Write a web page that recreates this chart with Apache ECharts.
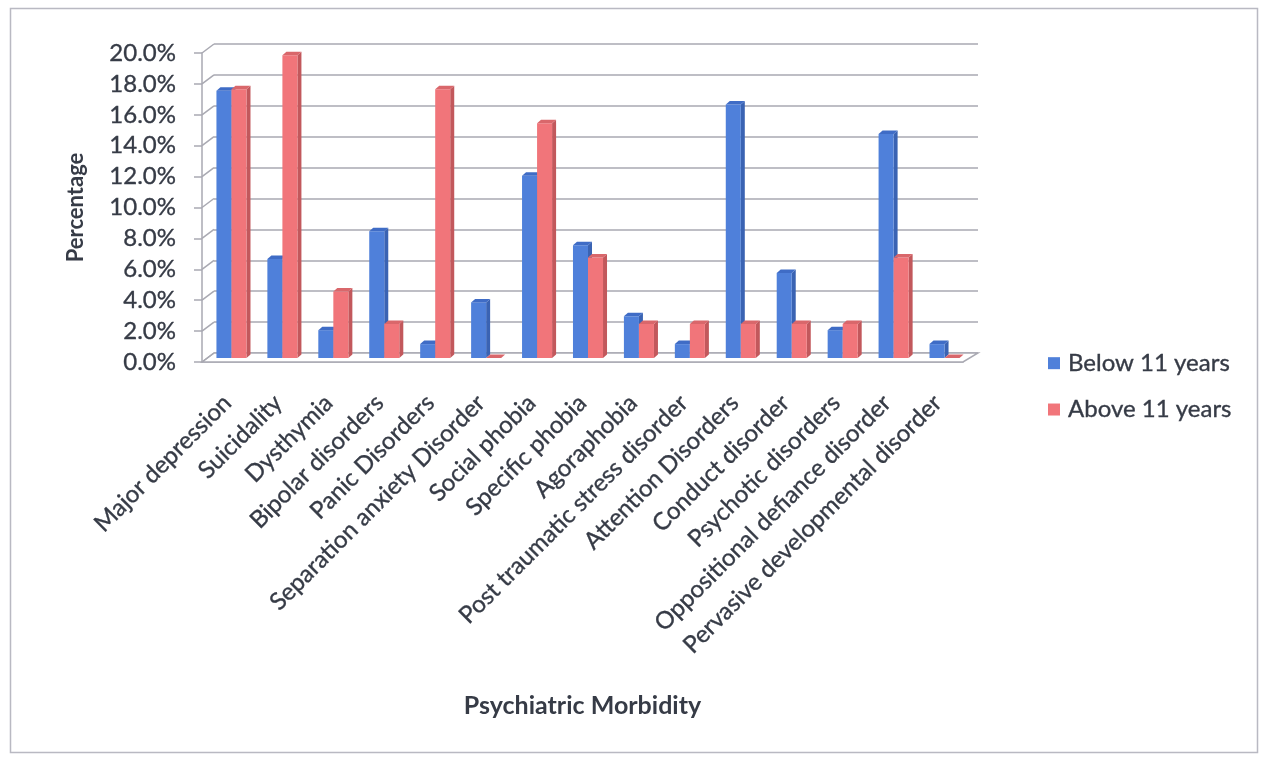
<!DOCTYPE html>
<html>
<head>
<meta charset="utf-8">
<title>Psychiatric Morbidity by Age Group</title>
<script src="https://cdn.jsdelivr.net/npm/echarts@6/dist/echarts.min.js"></script>
<style>
  html, body { margin: 0; padding: 0; background: #ffffff; }
  #chart { width: 1264px; height: 757px; }
</style>
</head>
<body>
<div id="chart"></div>
<script>
// Diagnoses on the category axis
const categories = [
  'Major depression', 'Suicidality', 'Dysthymia', 'Bipolar disorders',
  'Panic Disorders', 'Separation anxiety Disorder', 'Social phobia',
  'Specific phobia', 'Agoraphobia', 'Post traumatic stress disorder',
  'Attention Disorders', 'Conduct disorder', 'Psychotic disorders',
  'Oppositional defiance disorder', 'Pervasive developmental disorder'
];

// Percentage of children in each age group with the diagnosis
const below11 = [17.3, 6.4, 1.8, 8.2, 0.9, 3.6, 11.8, 7.3, 2.7, 0.9, 16.4, 5.5, 1.8, 14.5, 0.9];
const above11 = [17.4, 19.6, 4.3, 2.2, 17.4, 0.0, 15.2, 6.5, 2.2, 2.2, 2.2, 2.2, 2.2, 6.5, 0.0];

const seriesNames = ['Below 11 years', 'Above 11 years'];

// Value axis range and step (percent)
const yMin = 0, yMax = 20, yStep = 2;

const FONT = 'Lato, "Open Sans", sans-serif';
const TEXT = '#363b46';
const GRID_LINE = '#a9a9b2';

// Slight outline thickens the regular text weight
const heavy = { textBorderColor: TEXT, textBorderWidth: 0.35 };

// Colours for front, side and top faces of the columns
const palette = [
  { front: '#4f80da', side: '#3a63b3', top: '#3f6cc6' },
  { front: '#f1757a', side: '#c2585c', top: '#d9676b' }
];

// Offset of the back wall relative to the front plane
const DEPTH_X = 12, DEPTH_Y = 9;
// Extrusion of each column
const COL_DX = 4, COL_DY = 3.5;

function columnRenderer(groupIndex) {
  return function (params, api) {
    const cat = api.value(0);
    const val = api.value(1);
    const base = api.coord([cat, 0]);
    const top = api.coord([cat, val]);
    const band = api.size([1, 0])[0];
    const w = band * 0.295;
    const x = groupIndex === 0 ? base[0] - w : base[0];
    const yTop = top[1];
    const yBot = base[1];
    const c = palette[groupIndex];
    return {
      type: 'group',
      children: [
        {
          type: 'polygon',
          shape: { points: [[x + w, yTop], [x + w + COL_DX, yTop - COL_DY], [x + w + COL_DX, yBot - COL_DY], [x + w, yBot]] },
          style: { fill: c.side }
        },
        {
          type: 'rect',
          shape: { x: x, y: yTop, width: w, height: yBot - yTop },
          style: { fill: c.front }
        },
        {
          type: 'polygon',
          shape: { points: [[x, yTop], [x + COL_DX, yTop - COL_DY], [x + w + COL_DX, yTop - COL_DY], [x + w, yTop]] },
          style: { fill: c.top }
        }
      ]
    };
  };
}

// Floor outline and the slanted links between front ticks and the back wall
function frameRenderer(params, api) {
  const cs = params.coordSys;
  const children = [];
  const x0 = cs.x, x1 = cs.x + cs.width;
  const y0 = api.coord([0, yMin])[1];
  children.push({
    type: 'polygon',
    shape: { points: [[x0, y0], [x0 + DEPTH_X, y0 - DEPTH_Y], [x1 + DEPTH_X + 3, y0 - DEPTH_Y], [x1, y0]] },
    style: { fill: '#ffffff', stroke: GRID_LINE, lineWidth: 1.5 }
  });
  for (let v = yMin; v <= yMax; v += yStep) {
    const y = api.coord([0, v])[1];
    children.push({
      type: 'line',
      shape: { x1: x0, y1: y, x2: x0 + DEPTH_X, y2: y - DEPTH_Y },
      style: { stroke: GRID_LINE, lineWidth: 1.5 }
    });
  }
  return { type: 'group', children: children };
}

const chart = echarts.init(document.getElementById('chart'), null, { renderer: 'canvas' });

const frontGrid = { left: 202, top: 53, width: 761, height: 309 };
const backGrid = { left: 214, top: 44, width: 764, height: 309 };
const barGrid = { left: 206, top: 49, width: 764, height: 309 };

const option = {
  backgroundColor: '#ffffff',
  animation: false,
  textStyle: { fontFamily: FONT },
  graphic: [
    {
      type: 'rect',
      left: 8, top: 6,
      shape: { width: 1247, height: 744 },
      style: { fill: 'none', stroke: '#b9b9c2', lineWidth: 1.5 },
      silent: true
    }
  ],
  legend: {
    orient: 'vertical',
    left: 1043,
    top: 346,
    itemWidth: 12,
    itemHeight: 12,
    itemGap: 22,
    icon: 'rect',
    data: seriesNames,
    textStyle: Object.assign({ fontFamily: FONT, fontSize: 24, color: TEXT, lineHeight: 24, padding: [0, 0, 0, 3] }, heavy)
  },
  grid: [
    Object.assign({ containLabel: false }, frontGrid),
    Object.assign({ containLabel: false }, backGrid),
    Object.assign({ containLabel: false }, barGrid)
  ],
  xAxis: [
    {
      type: 'category', gridIndex: 0, data: categories,
      axisLine: { show: true, lineStyle: { color: GRID_LINE, width: 1.5 } },
      axisTick: { show: false },
      axisLabel: Object.assign({
        rotate: 45, interval: 0, margin: 37,
        fontFamily: FONT, fontSize: 24, color: TEXT
      }, heavy),
      name: 'Psychiatric Morbidity',
      nameLocation: 'middle',
      nameGap: 331,
      nameTextStyle: { fontFamily: FONT, fontSize: 25, fontWeight: 'bold', color: TEXT }
    },
    {
      type: 'category', gridIndex: 1, data: categories, show: false
    },
    {
      type: 'category', gridIndex: 2, data: categories, show: false
    }
  ],
  yAxis: [
    {
      type: 'value', gridIndex: 0, min: yMin, max: yMax, interval: yStep,
      axisLine: { show: true, lineStyle: { color: GRID_LINE, width: 1.5 } },
      axisTick: { show: true, length: 8, lineStyle: { color: GRID_LINE, width: 1.5 } },
      splitLine: { show: false },
      axisLabel: Object.assign({
        margin: 26,
        fontFamily: FONT, fontSize: 24, color: TEXT,
        formatter: function (v) { return v.toFixed(1) + '%'; }
      }, heavy),
      name: 'Percentage',
      nameLocation: 'middle',
      nameRotate: 90,
      nameGap: 115,
      nameTextStyle: { fontFamily: FONT, fontSize: 22, fontWeight: 'bold', color: TEXT }
    },
    {
      type: 'value', gridIndex: 1, min: yMin, max: yMax, interval: yStep,
      axisLine: { show: false }, axisTick: { show: false }, axisLabel: { show: false },
      splitLine: { show: true, lineStyle: { color: GRID_LINE, width: 1.5 } }
    },
    {
      type: 'value', gridIndex: 2, min: yMin, max: yMax, interval: yStep, show: false,
      splitLine: { show: false }
    }
  ],
  series: [
    {
      type: 'custom', name: 'frame', xAxisIndex: 0, yAxisIndex: 0,
      silent: true, z: 1,
      renderItem: frameRenderer,
      data: [[0, 0]]
    },
    {
      type: 'custom', name: seriesNames[0], xAxisIndex: 2, yAxisIndex: 2, z: 3,
      itemStyle: { color: palette[0].front },
      renderItem: columnRenderer(0),
      data: below11.map(function (v, i) { return [i, v]; })
    },
    {
      type: 'custom', name: seriesNames[1], xAxisIndex: 2, yAxisIndex: 2, z: 4,
      itemStyle: { color: palette[1].front },
      renderItem: columnRenderer(1),
      data: above11.map(function (v, i) { return [i, v]; })
    }
  ]
};

chart.setOption(option);
</script>
</body>
</html>
